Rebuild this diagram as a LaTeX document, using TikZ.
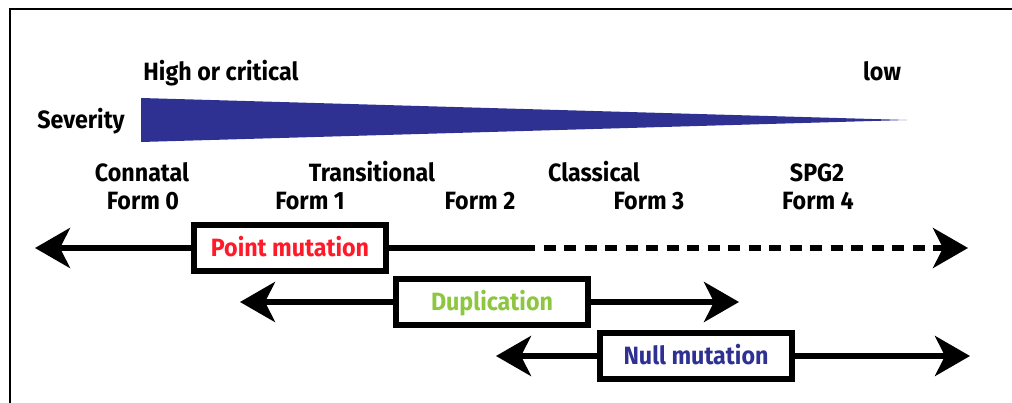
\documentclass[tikz,border=0pt]{standalone}
\usepackage{fontspec}
\setmainfont{Fira Sans}[FakeStretch=0.93]
\usetikzlibrary{arrows.meta}
\definecolor{sevblue}{HTML}{2E3192}
\definecolor{ptred}{HTML}{FF1A2A}
\definecolor{dupgreen}{HTML}{8DC63F}
\tikzset{
  lbl/.style={font=\fontsize{25}{25}\selectfont\bfseries, anchor=base, inner sep=0pt},
  mutbox/.style={draw=black, line width=5.5pt, fill=white, minimum width=192pt, minimum height=46pt,
    inner sep=0pt, text height=17pt, text depth=0pt, font=\fontsize{25}{25}\selectfont\bfseries},
  axis/.style={line width=5.5pt},
  tip/.style={-{Stealth[length=35pt,width=40pt,inset=10pt]}},
  dashline/.style={dash pattern=on 12pt off 8.5pt}
}
\begin{document}
\begin{tikzpicture}[x=1pt,y=-1pt]
\useasboundingbox (0,0) rectangle (1012,403);
% frame (only top and left edges visible)
\draw[line width=2.5pt] (10,403) -- (10,9) -- (1012,9);
% severity wedge
\fill[sevblue] (141,98) -- (141,142) -- (907,120) -- cycle;
\node[lbl] (high) at (221,81) {High or critical};
\node[lbl] (low) at (882,81) {low};
\node[lbl] (sev) at (81,129) {Severity};
% phenotype labels
\node[lbl] (c0) at (142,182) {Connatal};
\node[lbl] (f0) at (143,210) {Form 0};
\node[lbl] (tr) at (372,182) {Transitional};
\node[lbl] (f1) at (310,210) {Form 1};
\node[lbl] (f2) at (480,210) {Form 2};
\node[lbl] (cl) at (594,182) {Classical};
\node[lbl] (f3) at (649,210) {Form 3};
\node[lbl] (sp) at (817,182) {SPG2};
\node[lbl] (f4) at (818,210) {Form 4};
% arrow end points
\coordinate (pL) at (35,248);
\coordinate (pM) at (523,248);
\coordinate (pR) at (968,248);
\coordinate (dL) at (240,302);
\coordinate (dR) at (739,302);
\coordinate (nL) at (496,356);
\coordinate (nR) at (970,356);
% boxes
\node[mutbox, text=ptred] (pm) at (290,248) {Point mutation};
\node[mutbox, text=dupgreen] (dup) at (492,302) {Duplication};
\node[mutbox, text=sevblue] (nm) at (696,356) {Null mutation};
% connectors
\draw[axis,tip] (pm.west) -- (pL);
\draw[axis] (pm.east) -- (pM);
\draw[axis,dashline,tip] (pM) -- (pR);
\draw[axis,tip] (dup.west) -- (dL);
\draw[axis,tip] (dup.east) -- (dR);
\draw[axis,tip] (nm.west) -- (nL);
\draw[axis,tip] (nm.east) -- (nR);
% redraw boxes on top
\node[mutbox, text=ptred] at (pm) {Point mutation};
\node[mutbox, text=dupgreen] at (dup) {Duplication};
\node[mutbox, text=sevblue] at (nm) {Null mutation};
\end{tikzpicture}
\end{document}
